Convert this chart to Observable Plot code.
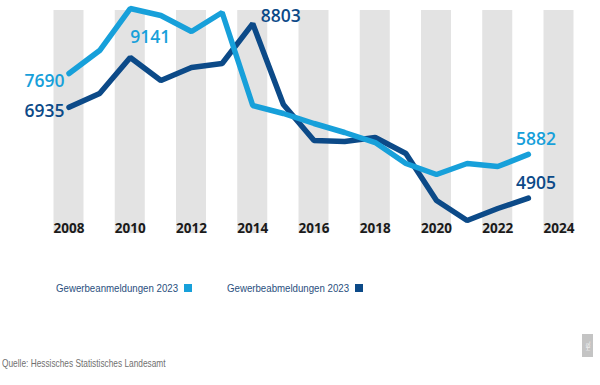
<!DOCTYPE html>
<html><head><meta charset="utf-8">
<script src="https://cdn.jsdelivr.net/npm/d3@7"></script>
<script src="https://cdn.jsdelivr.net/npm/@observablehq/plot@0.6"></script>
<style>
body{margin:0;background:#fff;}
#wrap{position:relative;width:600px;height:385px;overflow:hidden;font-family:"Liberation Sans",Arial,sans-serif;}
#chart{position:absolute;left:0;top:0;}
#legend{position:absolute;left:0;top:0;width:600px;height:385px;}
.lt{position:absolute;font-size:11.8px;color:#2b4f7e;white-space:nowrap;transform:scaleX(0.82);transform-origin:0 50%;line-height:14px;}
.sw{position:absolute;width:8px;height:8px;}
#source{position:absolute;left:2px;top:358px;font-size:10.4px;color:#707070;white-space:nowrap;transform:scaleX(0.8);transform-origin:0 50%;}
#tag{position:absolute;left:582px;top:334px;width:11px;height:23px;background:#c4c4c4;color:#fff;font-size:5px;display:flex;align-items:center;justify-content:center;}
#tag span{transform:rotate(-90deg);display:block;}
</style>
</head><body>
<div id="wrap">
<div id="chart"></div>
<div id="legend"></div>
<div id="source">Quelle: Hessisches Statistisches Landesamt</div>
<div id="tag"><span>HSL</span></div>
</div>
<script>
const years = [2008,2009,2010,2011,2012,2013,2014,2015,2016,2017,2018,2019,2020,2021,2022,2023];
const anmeldungen = [7690,8203,9141,8985,8627,9052,6975,6796,6573,6372,6148,5679,5434,5679,5612,5882];
const abmeldungen = [6935,7243,8047,7533,7823,7913,8803,6997,6193,6170,6260,5903,4853,4406,4674,4905];
const tickYears = [2008,2010,2012,2014,2016,2018,2020,2022,2024];
const seriesNames = ["Gewerbeanmeldungen 2023","Gewerbeabmeldungen 2023"];
const colors = ["#17a0da","#0c4a88"];
const bandExtent = [4116, 9096];

const data = years.map((y,i) => ({year: y, an: anmeldungen[i], ab: abmeldungen[i]}));
const at = (yr) => data.filter(d => d.year === yr);
const labelFont = {fontFamily: "'Open Sans', sans-serif", fontWeight: 600, fontSize: 17.5};

const plot = Plot.plot({
  width: 600,
  height: 250,
  marginTop: 0,
  marginBottom: 17,
  marginLeft: 68.5,
  marginRight: 41.5,
  x: {domain: [2008, 2024], label: null},
  y: {domain: [4116, 9320], axis: null},
  style: {background: "transparent", overflow: "visible"},
  marks: [
    Plot.rectY(tickYears, {x1: d => d - 0.49, x2: d => d + 0.49, y1: bandExtent[0], y2: bandExtent[1], fill: "#e3e3e3"}),
    Plot.axisX(tickYears, {tickSize: 0, label: null, tickFormat: d => String(d), dy: -19, fontFamily: "'Open Sans', sans-serif", fontWeight: 700, fontSize: 13.5, fill: "#1a1a1a"}),
    Plot.line(data, {x: "year", y: "ab", stroke: colors[1], strokeWidth: 5.5, strokeLinejoin: "miter", curve: "linear"}),
    Plot.line(data, {x: "year", y: "an", stroke: colors[0], strokeWidth: 5.5, strokeLinejoin: "miter", curve: "linear"}),
    Plot.text(at(2008), {x: "year", y: "an", text: d => String(d.an), textAnchor: "end", dx: -4.5, dy: 8, fill: colors[0], ...labelFont}),
    Plot.text(at(2008), {x: "year", y: "ab", text: d => String(d.ab), textAnchor: "end", dx: -4.5, dy: 4, fill: colors[1], ...labelFont}),
    Plot.text(at(2010), {x: "year", y: "an", text: d => String(d.an), textAnchor: "start", dx: 0, dy: 29, fill: colors[0], ...labelFont}),
    Plot.text(at(2014), {x: "year", y: "ab", text: d => String(d.ab), textAnchor: "start", dx: 8, dy: -7, fill: colors[1], ...labelFont}),
    Plot.text(at(2023), {x: "year", y: "an", text: d => String(d.an), textAnchor: "start", dx: -12.5, dy: -15, fill: colors[0], ...labelFont}),
    Plot.text(at(2023), {x: "year", y: "ab", text: d => String(d.ab), textAnchor: "start", dx: -12.5, dy: -15, fill: colors[1], ...labelFont})
  ]
});
document.getElementById("chart").appendChild(plot);

const legend = document.getElementById("legend");
let lx = 56;
const ly = 288;
seriesNames.forEach((name, i) => {
  const t = document.createElement("div");
  t.className = "lt";
  t.textContent = name;
  t.style.left = lx + "px";
  t.style.top = (ly - 7) + "px";
  legend.appendChild(t);
  const w = t.getBoundingClientRect().width;
  const sw = document.createElement("div");
  sw.className = "sw";
  sw.style.background = colors[i];
  sw.style.left = (lx + w + 6) + "px";
  sw.style.top = (ly - 4) + "px";
  legend.appendChild(sw);
  lx = lx + w + 6 + 8 + 35;
});
</script>
</body></html>
